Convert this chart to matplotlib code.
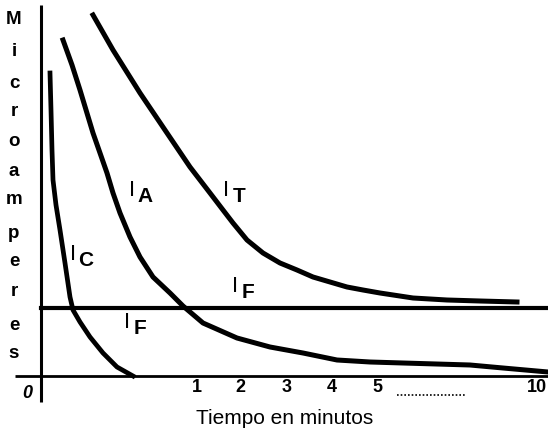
import matplotlib.pyplot as plt

plt.rcParams['font.family'] = ['Liberation Sans', 'DejaVu Sans']

# curve readings (x: right of the y axis, y: above the time axis, chart units)
it_x = [52, 72, 99, 126, 149, 169, 182, 192, 206, 222, 239, 256, 272, 289, 306, 322,
        339, 372, 406, 439, 476]
it_y = [361, 326, 283, 243, 209, 183, 166, 153, 136, 123, 113, 106, 99, 94, 89, 86,
        83, 78, 76, 75, 74]

ia_x = [22, 31, 39, 52, 66, 72, 79, 89, 99, 112, 129, 142, 162, 196, 229, 262, 296,
        329, 362, 429, 462, 507]
ia_y = [336, 311, 286, 243, 203, 183, 163, 139, 119, 99, 83, 70, 53, 38, 29, 23, 16,
        14, 13, 11, 8, 4]

ic_x = [9, 10, 11, 12, 15, 19, 24, 29, 32, 39, 49, 62, 76, 92]
ic_y = [303, 266, 226, 196, 171, 146, 113, 79, 66, 54, 39, 23, 9, 0]

if_level = 68

tick_pos = [156, 199, 246, 291, 336, 496]
tick_labels = ['1', '2', '3', '4', '5', '10']

ylabel_letters = list('Microamperes')
ylabel_pos = [357, 325, 293, 264, 234, 204, 176, 143, 115, 84, 50, 22]

fig = plt.figure(figsize=(5.48, 4.37), dpi=100)
ax = fig.add_axes([0, 0, 1, 1])
ax.set_xlim(-41, 507)
ax.set_ylim(-61, 376)
ax.axis('off')

# axes
ax.plot([0, 0], [371, -26], color='black', lw=2.2, solid_capstyle='butt')
ax.plot([-26, 507], [0, 0], color='black', lw=2.0, solid_capstyle='butt')

# currents
ax.plot(it_x, it_y, color='black', lw=3.6, solid_joinstyle='round')
ax.plot(ia_x, ia_y, color='black', lw=3.6, solid_joinstyle='round')
ax.plot(ic_x, ic_y, color='black', lw=3.4, solid_joinstyle='round')
ax.plot([0, 507], [if_level, if_level], color='black', lw=3.0)

# curve labels: "I" plus a lowered letter
for sub, x, y in [('A', 91, 186), ('T', 185, 186), ('C', 32, 121),
                  ('F', 194, 89), ('F', 86, 53)]:
    ax.text(x, y, 'I', fontsize=16, ha='center', va='center')
    ax.text(x + 13, y - 6, sub, fontsize=15, fontweight='bold', ha='center', va='center')

# time ticks
ax.text(-14, -17, '0', fontsize=13, fontstyle='italic', fontweight='bold',
        ha='center', va='center')
for pos, lab in zip(tick_pos, tick_labels):
    ax.text(pos, -12, lab, fontsize=13, fontweight='bold', ha='center', va='center')
ax.plot([356, 424], [-19, -19], color='black', lw=1.2, ls=(0, (1, 1.2)))
ax.text(244, -43, 'Tiempo en minutos', fontsize=15, ha='center', va='center')

# vertical axis title, one letter per line
for letter, y in zip(ylabel_letters, ylabel_pos):
    ax.text(-27, y, letter, fontsize=13.5, fontweight='bold', ha='center', va='center')

fig.savefig('out.png', dpi=100)
